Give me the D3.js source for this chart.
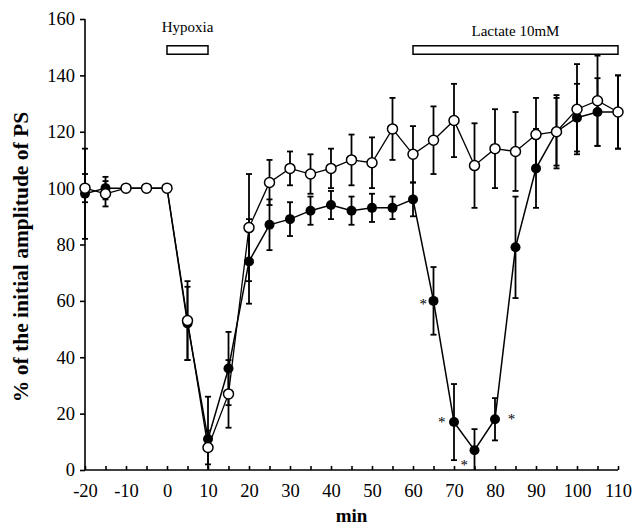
<!DOCTYPE html>
<html>
<head>
<meta charset="utf-8">
<script src="https://cdn.jsdelivr.net/npm/d3@7"></script>
<style>
  body { margin: 0; background: #fff; }
  svg { display: block; }
  .axis path, .axis line { stroke: #000; stroke-width: 1.6; }
  .axis text { font-family: "Liberation Serif", "Times New Roman", serif; font-size: 18.5px; fill: #000; }
</style>
</head>
<body>
<div id="chart"></div>
<script>
// time points (min)
const minutes = [-20,-15,-10,-5,0,5,10,15,20,25,30,35,40,45,50,55,60,65,70,75,80,85,90,95,100,105,110];

// open circles (control)
const controlMean = [100,98,100,100,100,53,8,27,86,102,107,105,107,110,109,121,112,117,124,108,114,113,119,120,128,131,127];
const controlSem  = [5,4.5,0,0,0,14,6,12,19,8,6,7,7,9,9,11,10,12,13,15,14,14,13,13,16,16,13];

// filled circles (lactate)
const lactateMean = [98,100,100,100,100,52,11,36,74,87,89,92,94,92,93,93,96,60,17,7,18,79,107,120,125,127,127];
const lactateSem  = [16,4,0,0,0,13,15,13,15,9,6,5,5,5,5,4,6,12,13.5,7.5,7.5,18,14,12,12,12,13];

// significance marks
const starMin = [62.5, 67, 72.5, 84];
const starVal = [60, 18, 3, 19];

// treatment bars
const treatLabel = ["Hypoxia", "Lactate 10mM"];
const treatStart = [0, 60];
const treatEnd = [10, 110];

const xTicks = [-20,-10,0,10,20,30,40,50,60,70,80,90,100,110];
const yTicks = [0,20,40,60,80,100,120,140,160];

const W = 632, H = 528;
const margin = {top: 19, right: 14, bottom: 58, left: 85};
const width = W - margin.left - margin.right;
const height = H - margin.top - margin.bottom;

const svg = d3.select("#chart").append("svg")
    .attr("width", W)
    .attr("height", H);

const g = svg.append("g")
    .attr("transform", "translate(" + margin.left + "," + margin.top + ")");

const x = d3.scaleLinear().domain([-20, 110]).range([0, width]);
const y = d3.scaleLinear().domain([0, 160]).range([height, 0]);

const control = minutes.map(function(t, i) { return {t: t, v: controlMean[i], e: controlSem[i]}; });
const lactate = minutes.map(function(t, i) { return {t: t, v: lactateMean[i], e: lactateSem[i]}; });

// minor x ticks every 5 min (inside)
g.append("g")
  .attr("class", "axis")
  .attr("transform", "translate(0," + height + ")")
  .call(d3.axisTop(x).tickValues(d3.range(-20, 111, 5)).tickSize(4).tickFormat(""))
  .select(".domain").remove();

// x axis
const xAxis = g.append("g")
  .attr("class", "axis")
  .attr("transform", "translate(0," + height + ")")
  .call(d3.axisBottom(x).tickValues(xTicks).tickSize(0).tickPadding(14)
    .tickFormat(function(d) { return String(d); }));
xAxis.select(".domain").attr("d", "M0,0H" + width);

// y axis
const yAxis = g.append("g")
  .attr("class", "axis")
  .call(d3.axisLeft(y).tickValues(yTicks).tickSize(5).tickPadding(5));
yAxis.select(".domain").attr("d", "M0," + height + "V0");

// axis titles
svg.append("text")
  .attr("transform", "translate(28,257) rotate(-90)")
  .attr("text-anchor", "middle")
  .attr("font-family", "Liberation Serif, serif")
  .attr("font-weight", "bold")
  .attr("font-size", 21.5)
  .text("% of the initial amplitude of PS");

svg.append("text")
  .attr("x", margin.left + width / 2)
  .attr("y", 522)
  .attr("text-anchor", "middle")
  .attr("font-family", "Liberation Serif, serif")
  .attr("font-weight", "bold")
  .attr("font-size", 19)
  .text("min");

// treatment bars
treatLabel.forEach(function(lab, i) {
  g.append("rect")
    .attr("x", x(treatStart[i]))
    .attr("y", y(150.5))
    .attr("width", x(treatEnd[i]) - x(treatStart[i]))
    .attr("height", y(147.5) - y(150.5))
    .attr("fill", "#fff")
    .attr("stroke", "#000")
    .attr("stroke-width", 1.5);
  g.append("text")
    .attr("x", (x(treatStart[i]) + x(treatEnd[i])) / 2)
    .attr("y", y(150.5) - 10 - (i === 0 ? 4 : 0))
    .attr("text-anchor", "middle")
    .attr("font-family", "Liberation Serif, serif")
    .attr("font-size", 15)
    .text(lab);
});

const line = d3.line()
  .x(function(d) { return x(d.t); })
  .y(function(d) { return y(d.v); });

function errorBars(data) {
  const eb = g.append("g").attr("stroke", "#000").attr("stroke-width", 1.8);
  const withErr = data.filter(function(d) { return d.e > 0; });
  eb.selectAll(".bar").data(withErr).enter().append("line")
    .attr("x1", function(d) { return x(d.t); })
    .attr("x2", function(d) { return x(d.t); })
    .attr("y1", function(d) { return y(Math.min(160, d.v + d.e)); })
    .attr("y2", function(d) { return y(Math.max(0, d.v - d.e)); });
  eb.selectAll(".capTop").data(withErr).enter().append("line")
    .attr("x1", function(d) { return x(d.t) - 3; })
    .attr("x2", function(d) { return x(d.t) + 3; })
    .attr("y1", function(d) { return y(d.v + d.e); })
    .attr("y2", function(d) { return y(d.v + d.e); });
  eb.selectAll(".capBot").data(withErr.filter(function(d) { return d.v - d.e > 0; })).enter().append("line")
    .attr("x1", function(d) { return x(d.t) - 3; })
    .attr("x2", function(d) { return x(d.t) + 3; })
    .attr("y1", function(d) { return y(d.v - d.e); })
    .attr("y2", function(d) { return y(d.v - d.e); });
}

errorBars(lactate);
errorBars(control);

g.append("path")
  .datum(lactate)
  .attr("fill", "none")
  .attr("stroke", "#000")
  .attr("stroke-width", 1.5)
  .attr("d", line);

g.append("path")
  .datum(control)
  .attr("fill", "none")
  .attr("stroke", "#000")
  .attr("stroke-width", 1.3)
  .attr("d", line);

g.selectAll(".filled").data(lactate).enter().append("circle")
  .attr("cx", function(d) { return x(d.t); })
  .attr("cy", function(d) { return y(d.v); })
  .attr("r", 5)
  .attr("fill", "#000");

g.selectAll(".open").data(control).enter().append("circle")
  .attr("cx", function(d) { return x(d.t); })
  .attr("cy", function(d) { return y(d.v); })
  .attr("r", 5)
  .attr("fill", "#fff")
  .attr("stroke", "#000")
  .attr("stroke-width", 1.5);

// asterisks
g.selectAll(".star").data(starMin).enter().append("text")
  .attr("x", function(d) { return x(d); })
  .attr("y", function(d, i) { return y(starVal[i]) + 8; })
  .attr("text-anchor", "middle")
  .attr("font-family", "Liberation Serif, serif")
  .attr("font-size", 15)
  .text("*");
</script>
</body>
</html>
